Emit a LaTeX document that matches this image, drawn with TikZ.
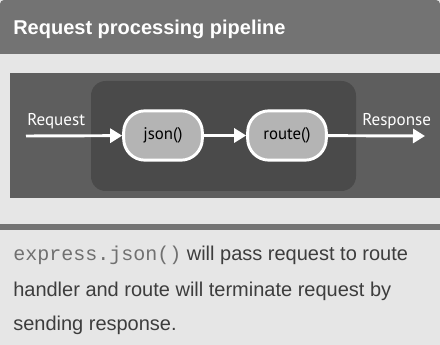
\documentclass[tikz,border=0pt]{standalone}
\usepackage{fontspec}
\setmainfont{Liberation Sans}
\setmonofont{Liberation Mono}
\newfontfamily\diagfont{PT Sans}
\usetikzlibrary{arrows.meta,positioning}
\definecolor{headgray}{HTML}{737373}
\definecolor{pagegray}{HTML}{E6E6E6}
\definecolor{panelgray}{HTML}{5E5E5E}
\definecolor{innergray}{HTML}{4A4A4A}
\definecolor{stagegray}{HTML}{B4B4B4}
\definecolor{textgray}{HTML}{3D3D3D}
\definecolor{codegray}{HTML}{707070}

\begin{document}
\begin{tikzpicture}[
x=0.75pt, y=-0.75pt,
stage/.style={draw=white, line width=2.2pt, fill=stagegray, rounded corners=16pt, minimum width=59pt, minimum height=37pt, inner sep=0pt, font=\diagfont\fontsize{12.6}{14}\selectfont, text=black},
flowarrow/.style={-{Triangle[length=9pt, width=10.5pt]}, draw=white, line width=2.2pt},
flowlabel/.style={anchor=base west, inner sep=0pt, text=white, font=\diagfont\fontsize{12.8}{14}\selectfont},
bodytext/.style={anchor=base west, inner sep=0pt, text=textgray, font=\fontsize{15}{18}\selectfont}
]
\useasboundingbox (0,0) rectangle (440,345);
\fill[pagegray] (0,0) rectangle (440,345);
\fill[headgray] (0,54) [rounded corners=3pt] -- (0,0) -- (440,0) [sharp corners] -- (440,54) -- cycle;
\node[anchor=base west, inner sep=0pt, text=white, font=\bfseries\fontsize{15}{18}\selectfont] (title) at (13,35) {Request processing pipeline};

% diagram panel
\fill[panelgray] (10,73) rectangle (440,198);
\fill[innergray, rounded corners=11pt] (91,81) rectangle (356,191);

\node[stage] (json) at (163,135.5) {json()};
\node[stage] (route) at (287,135.5) {route()};
\coordinate (reqin) at (26,136);
\coordinate (respout) at (425,136);

\draw[flowarrow] (reqin) -- (json);
\draw[flowarrow] (json) -- (route);
\draw[flowarrow] (route) -- (respout);

\node[flowlabel] (reqlabel) at (27,126) {Request};
\node[flowlabel] (resplabel) at (362,126) {Response};

% separator and caption
\fill[headgray] (0,224) rectangle (440,230);
\node[bodytext] (line1) at (13,261) {\textcolor{codegray}{\texttt{express.json()}} will pass request to route};
\node[bodytext] (line2) at (13,297) {handler and route will terminate request by};
\node[bodytext] (line3) at (13,331) {sending response.};
\end{tikzpicture}
\end{document}
